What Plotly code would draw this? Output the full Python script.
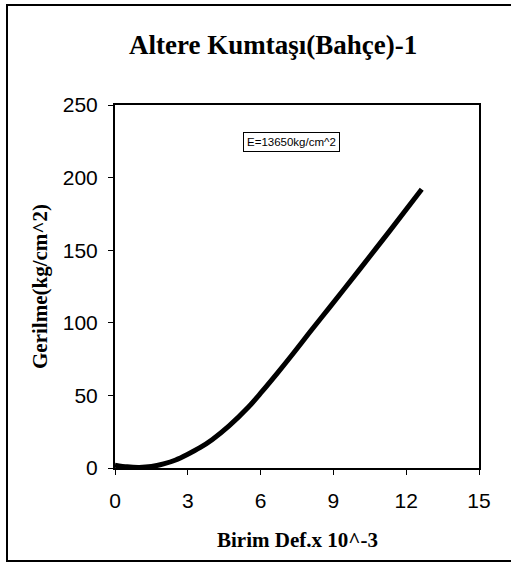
import plotly.graph_objects as go

strain = [0.0, 0.5, 1.0, 1.5, 2.0, 2.5, 3.0, 3.5, 4.0, 4.7, 5.5, 6.0, 6.7, 7.35, 8.0, 8.86, 10.09, 11.33, 12.64]
stress = [2.0, 0.8, 0.4, 1.0, 2.8, 5.5, 9.5, 14.0, 19.5, 29.0, 42.0, 51.5, 65.5, 79.0, 93.0, 111.0, 137.0, 163.5, 192.0]
x_ticks = [0, 3, 6, 9, 12, 15]
y_ticks = [0, 50, 100, 150, 200, 250]

title_text = "Altere Kumtaşı(Bahçe)-1"
x_title = "Birim Def.x 10^-3"
y_title = "Gerilme(kg/cm^2)"
note = "E=13650kg/cm^2"

SERIF = "Liberation Serif, Times New Roman, serif"
SANS = "Liberation Sans, Arial, sans-serif"

fig = go.Figure()
fig.add_trace(go.Scatter(x=strain, y=stress, mode="lines",
                         line=dict(color="black", width=5, shape="spline", smoothing=0.8),
                         showlegend=False, hoverinfo="skip"))

L, R, T, B = 115, 32, 105, 106
W, H = 511, 574
pw, ph = W - L - R, H - T - B

def px(xp):
    return (xp - L) / pw

def py(yp):
    return (H - B - yp) / ph

fig.update_layout(
    width=W, height=H,
    margin=dict(l=L, r=R, t=T, b=B),
    paper_bgcolor="white", plot_bgcolor="white",
    xaxis=dict(range=[0, 15], tickvals=x_ticks, ticks="outside", ticklen=5, tickcolor="black",
               showline=True, linecolor="black", linewidth=2, mirror=True, showgrid=False, zeroline=False,
               ticklabelstandoff=8,
               tickfont=dict(family=SANS, size=21, color="black")),
    yaxis=dict(range=[0, 250], tickvals=y_ticks, ticks="outside", ticklen=5, tickcolor="black",
               showline=True, linecolor="black", linewidth=2, mirror=True, showgrid=False, zeroline=False,
               ticklabelstandoff=6,
               tickfont=dict(family=SANS, size=21, color="black")),
)

fig.add_annotation(xref="paper", yref="paper", x=px(273), y=py(45), text="<b>" + title_text + "</b>",
                   showarrow=False, xanchor="center", yanchor="middle",
                   font=dict(family=SERIF, size=27, color="black"))
fig.add_annotation(xref="paper", yref="paper", x=px(297), y=py(540), text="<b>" + x_title + "</b>",
                   showarrow=False, xanchor="center", yanchor="middle",
                   font=dict(family=SERIF, size=21, color="black"))
fig.add_annotation(xref="paper", yref="paper", x=px(40), y=py(287), text="<b>" + y_title + "</b>",
                   showarrow=False, xanchor="center", yanchor="middle", textangle=-90,
                   font=dict(family=SERIF, size=21, color="black"))

fig.add_annotation(xref="paper", yref="paper", x=px(291), y=py(142), text=note, showarrow=False,
                   xanchor="center", yanchor="middle",
                   font=dict(family=SANS, size=11.5, color="black"),
                   bordercolor="black", borderwidth=1, borderpad=3, bgcolor="white")

fig.add_shape(type="rect", xref="paper", yref="paper",
              x0=px(7), x1=px(520), y0=py(561), y1=py(5),
              line=dict(color="black", width=2))

fig.write_html("out.html", config={"displayModeBar": False},
               post_script=["document.body.style.margin='0';"])
